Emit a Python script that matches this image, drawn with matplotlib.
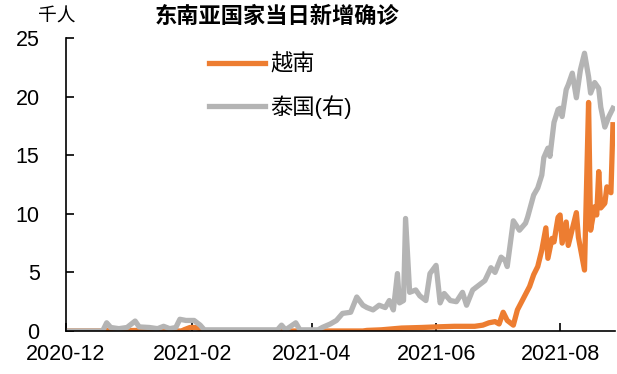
import matplotlib
matplotlib.use("Agg")
import matplotlib.pyplot as plt
import matplotlib.dates as mdates
import pandas as pd

plt.rcParams['font.family'] = ['Liberation Sans', 'Noto Sans CJK SC']

# 越南 daily new cases (thousand)
vn_dates = ["2020-12-01", "2020-12-19", "2020-12-21", "2020-12-23", "2021-01-05",
            "2021-01-10", "2021-01-27", "2021-01-28", "2021-01-31", "2021-02-03",
            "2021-02-05", "2021-02-07", "2021-04-26", "2021-04-28", "2021-05-05",
            "2021-05-15", "2021-05-25", "2021-06-01", "2021-06-10", "2021-06-20",
            "2021-06-24", "2021-06-27", "2021-06-30", "2021-07-02", "2021-07-04",
            "2021-07-06", "2021-07-09", "2021-07-11", "2021-07-14", "2021-07-17",
            "2021-07-19", "2021-07-21", "2021-07-23", "2021-07-25", "2021-07-26",
            "2021-07-28", "2021-07-29", "2021-07-31", "2021-08-01", "2021-08-02",
            "2021-08-04", "2021-08-05", "2021-08-09", "2021-08-10", "2021-08-13",
            "2021-08-15", "2021-08-16", "2021-08-18", "2021-08-19", "2021-08-20",
            "2021-08-21", "2021-08-23", "2021-08-24", "2021-08-26", "2021-08-27"]
vn_values = [0.0, 0.0, 0.05, 0.0, 0.05,
             0.0, 0.0, 0.1, 0.3, 0.3,
             0.2, 0.0, 0.0, 0.05, 0.1,
             0.25, 0.3, 0.35, 0.4, 0.4,
             0.5, 0.7, 0.8, 0.6, 1.6,
             0.9, 0.5, 1.8, 2.8, 3.8,
             4.8, 5.5, 6.9, 8.8, 6.2,
             7.9, 7.6, 9.7, 9.9, 7.5,
             9.3, 7.3, 10.1, 8.0, 5.2,
             19.5, 8.6, 10.6, 9.9, 13.6,
             10.5, 10.9, 12.3, 11.8, 17.6]

# 泰国 daily new cases (thousand)
th_dates = ["2020-12-01", "2020-12-19", "2020-12-21", "2020-12-23", "2020-12-27",
            "2020-12-31", "2021-01-04", "2021-01-06", "2021-01-11", "2021-01-15",
            "2021-01-18", "2021-01-21", "2021-01-24", "2021-01-26", "2021-01-29",
            "2021-02-02", "2021-02-05", "2021-02-07", "2021-02-20", "2021-03-15",
            "2021-03-17", "2021-03-19", "2021-03-24", "2021-03-26", "2021-04-04",
            "2021-04-06", "2021-04-10", "2021-04-13", "2021-04-16", "2021-04-20",
            "2021-04-23", "2021-04-26", "2021-04-28", "2021-05-01", "2021-05-04",
            "2021-05-07", "2021-05-09", "2021-05-11", "2021-05-13", "2021-05-14",
            "2021-05-16", "2021-05-17", "2021-05-19", "2021-05-22", "2021-05-24",
            "2021-05-27", "2021-05-29", "2021-06-01", "2021-06-02", "2021-06-03",
            "2021-06-05", "2021-06-08", "2021-06-11", "2021-06-14", "2021-06-16",
            "2021-06-19", "2021-06-22", "2021-06-25", "2021-06-28", "2021-06-30",
            "2021-07-03", "2021-07-05", "2021-07-06", "2021-07-09", "2021-07-12",
            "2021-07-15", "2021-07-16", "2021-07-19", "2021-07-21", "2021-07-23",
            "2021-07-24", "2021-07-26", "2021-07-27", "2021-07-29", "2021-07-31",
            "2021-08-01", "2021-08-02", "2021-08-04", "2021-08-05", "2021-08-07",
            "2021-08-09", "2021-08-11", "2021-08-13", "2021-08-15", "2021-08-16",
            "2021-08-18", "2021-08-20", "2021-08-21", "2021-08-23", "2021-08-25",
            "2021-08-27"]
th_values = [0.0, 0.0, 0.7, 0.3, 0.2,
             0.3, 0.85, 0.35, 0.3, 0.2,
             0.4, 0.2, 0.3, 1.0, 0.9,
             0.9, 0.5, 0.1, 0.1, 0.1,
             0.5, 0.1, 0.7, 0.1, 0.1,
             0.3, 0.6, 0.9, 1.5, 1.6,
             2.9, 2.2, 2.0, 1.8, 2.2,
             2.0, 2.6, 1.8, 4.9, 2.4,
             2.6, 9.6, 3.3, 3.5, 3.0,
             2.6, 4.9, 5.6, 4.0, 2.4,
             3.2, 2.6, 2.5, 3.3, 2.2,
             3.5, 3.9, 4.3, 5.4, 5.0,
             6.3, 6.0, 5.5, 9.4, 8.6,
             9.2, 9.7, 11.6, 12.2, 13.3,
             14.8, 15.6, 14.9, 17.8, 18.9,
             19.0, 18.3, 20.6, 21.0, 22.0,
             19.9, 22.3, 23.7, 21.7, 20.3,
             21.2, 20.7, 19.1, 17.4, 18.3,
             19.0]

vn = pd.Series(vn_values, index=pd.to_datetime(vn_dates))
th = pd.Series(th_values, index=pd.to_datetime(th_dates))

fig = plt.figure(figsize=(6.17, 3.74), dpi=100)
ax = fig.add_axes([66 / 617, 1 - 331 / 374, 549 / 617, 293 / 374])

ax.plot(vn.index, vn.values, color='#ED7D31', lw=3.8, label='越南', solid_joinstyle='round')
ax.plot(th.index, th.values, color='#B4B4B4', lw=3.8, label='泰国(右)', solid_joinstyle='round')

ax.set_xlim(pd.Timestamp("2020-12-01"), pd.Timestamp("2021-08-28"))
ax.set_ylim(0, 25)
ax.set_yticks([0, 5, 10, 15, 20, 25])
ax.xaxis.set_major_locator(mdates.MonthLocator(bymonth=[2, 4, 6, 8, 12]))
ax.xaxis.set_major_formatter(mdates.DateFormatter('%Y-%m'))

for s in ['top', 'right']:
    ax.spines[s].set_visible(False)
for s in ['left', 'bottom']:
    ax.spines[s].set_linewidth(1.2)
ax.tick_params(axis='both', direction='in', length=5.5, width=1.2, labelsize=15.5)
ax.tick_params(axis='y', pad=19)
ax.tick_params(axis='x', pad=9)

fig.text(0.449, 1 - 17 / 374, '东南亚国家当日新增确诊', ha='center', va='center',
         fontsize=16, fontweight='bold')
fig.text(57 / 617, 1 - 17 / 374, '千人', ha='center', va='center', fontsize=13.5)

ax.legend(loc='upper left', bbox_to_anchor=(209 / 617, 1 - 54 / 374),
          bbox_transform=fig.transFigure, frameon=False, fontsize=16,
          handlelength=2.5, handletextpad=0.25, labelspacing=0.9,
          borderpad=0, borderaxespad=0)

fig.savefig('out.png', dpi=100)
